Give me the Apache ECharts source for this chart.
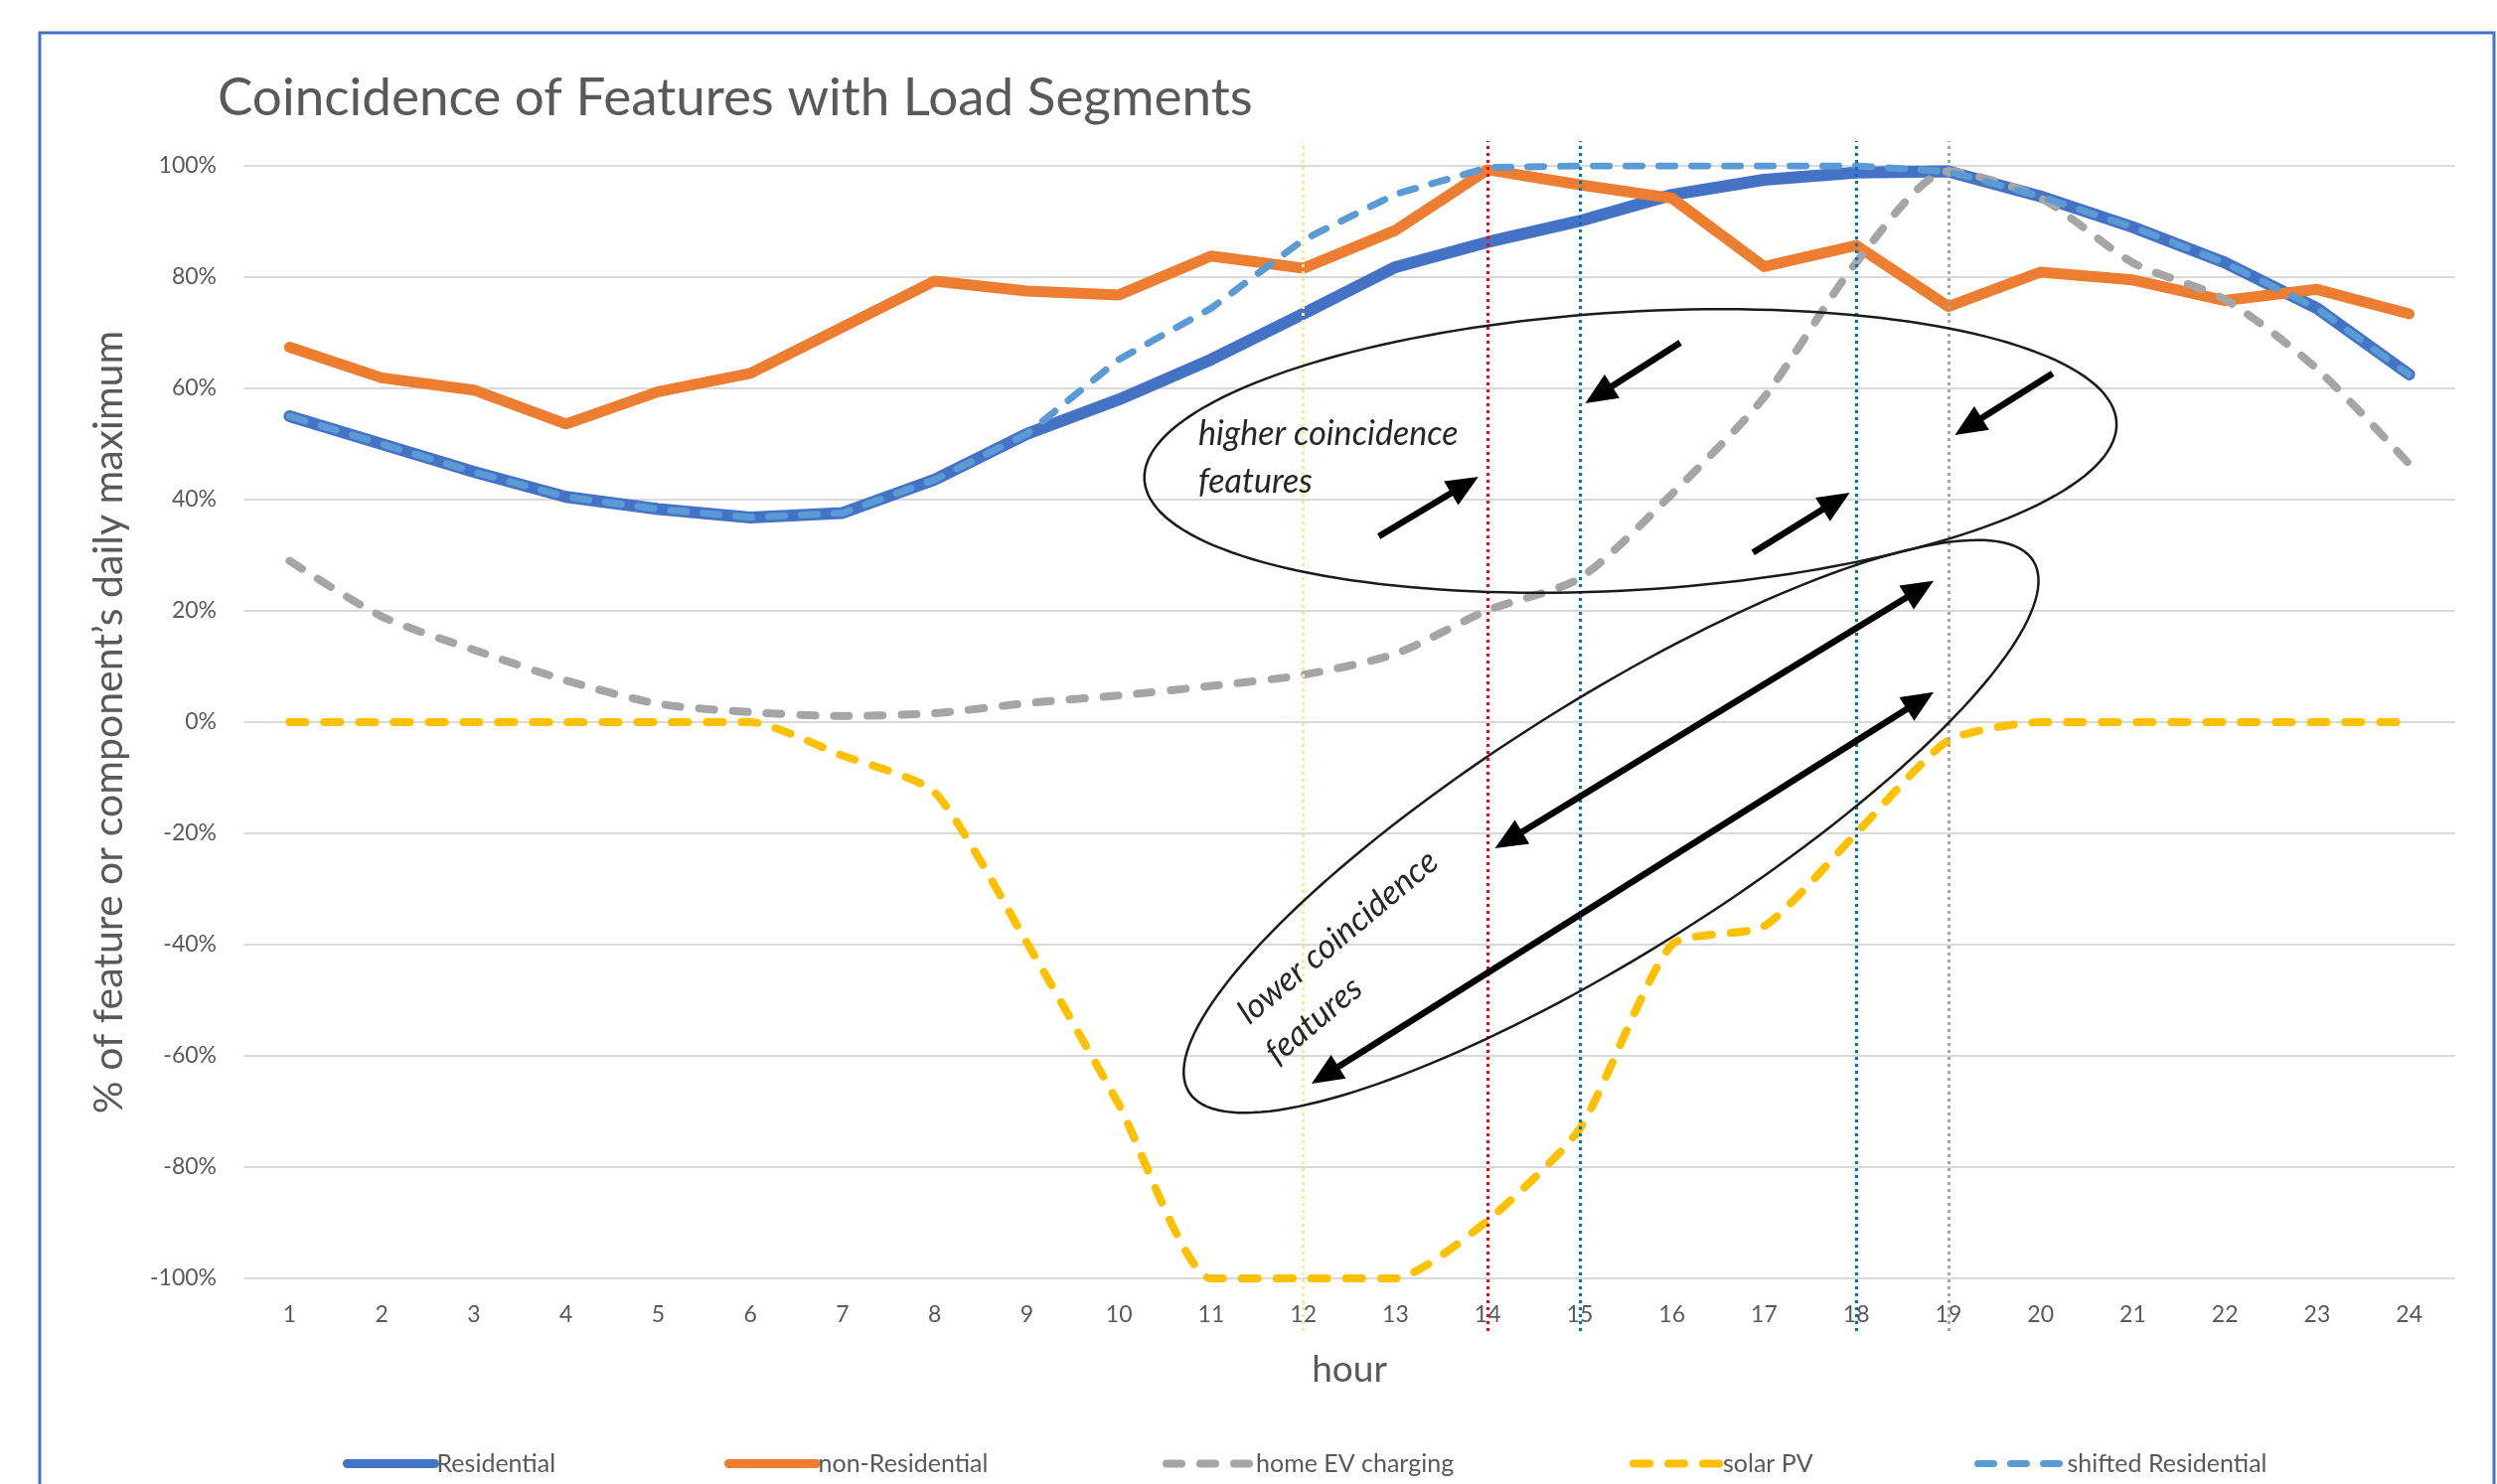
<!DOCTYPE html>
<html>
<head>
<meta charset="utf-8">
<title>Coincidence of Features with Load Segments</title>
<script src="https://cdn.jsdelivr.net/npm/echarts@6.0.0/dist/echarts.min.js"></script>
<style>
  html, body { margin: 0; padding: 0; background: #fff; }
  #chart { width: 2513px; height: 1494px; }
</style>
</head>
<body>
<div id="chart"></div>
<script>
// hours of the day
const hours = ['1', '2', '3', '4', '5', '6', '7', '8', '9', '10', '11', '12',
  '13', '14', '15', '16', '17', '18', '19', '20', '21', '22', '23', '24'];

// % of feature or component's daily maximum
const residential = [55, 50, 45, 40.5, 38.3, 36.8, 37.6, 43.6, 51.8, 58, 65.2, 73.4,
  81.8, 86.3, 90.1, 94.8, 97.5, 98.8, 99, 94.5, 89, 82.6, 74.4, 62.5];
const nonResidential = [67.4, 61.9, 59.7, 53.6, 59.4, 62.7, 71, 79.3, 77.5, 76.8, 83.8, 81.6,
  88.4, 99.3, 96.6, 94.2, 81.9, 85.7, 74.7, 80.9, 79.5, 75.8, 77.8, 73.4];
const homeEV = [29, 19, 13, 7.5, 3.3, 1.8, 1.1, 1.6, 3.4, 4.8, 6.5, 8.5,
  12.3, 20.1, 25.9, 41, 58.4, 82.6, 99, 94.2, 82.6, 76, 63.5, 46.4];
const solarPV = [0, 0, 0, 0, 0, 0, -6, -12.6, -39.6, -68.8, -100, -100,
  -100, -89.6, -73.1, -40, -36.7, -20, -3.3, 0, 0, 0, 0, 0];
const shiftedResidential = [55, 50, 45, 40.5, 38.3, 36.8, 37.6, 43.6, 51.8, 65.2, 74.4, 86.7,
  94.9, 99.7, 100, 100, 100, 100, 99, 94.5, 89, 82.6, 74.4, 62.5];

// hours marked with vertical dotted lines
const markerHours = ['12', '14', '15', '18', '19'];

// y axis ticks
const yMin = -100, yMax = 100, yStep = 20;

// annotation anchors, in (hour, %) units
const higherArrows = [[[12.82, 33.4], [13.9, 44.1]], [[16.09, 68.2], [15.06, 57.3]],
  [[16.88, 30.5], [17.93, 41.25]], [[20.13, 62.7], [19.07, 51.6]]];
const lowerArrows = [[[14.08, -22.7], [18.84, 25.4]], [[12.09, -65], [18.84, 5.4]]];
const higherText = ['higher coincidence', 'features'];
const higherTextAt = [[10.86, 51.8], [10.86, 43.2]];
const lowerText = ['lower coincidence', 'features'];
const lowerTextAt = [[11.34, -53], [11.64, -60.2]];
const ellipseCenters = [[15.55, 48.75], [15.34, -18.75]];

const FONT = 'Lato, "Noto Sans", sans-serif';
const GREY_TEXT = '#595959';
const markerColors = ['#FFE699', '#FF0000', '#0070C0', '#0070C0', '#A6A6A6'];
const ellipseShapes = [{ a: 490, b: 140, tilt: -3.4 }, { a: 502, b: 127, tilt: -32.2 }];

const seriesDefs = [
  { name: 'Residential', data: residential, color: '#4472C4', width: 12, dash: 'solid', smooth: false },
  { name: 'non-Residential', data: nonResidential, color: '#ED7D31', width: 11, dash: 'solid', smooth: false },
  { name: 'home EV charging', data: homeEV, color: '#A5A5A5', width: 8, dash: [15, 19], smooth: 0.25 },
  { name: 'solar PV', data: solarPV, color: '#FFC000', width: 8, dash: [16, 19], smooth: 0.2 },
  { name: 'shifted Residential', data: shiftedResidential, color: '#5B9BD5', width: 7, dash: [16, 17], smooth: false }
];
const legendLeft = [340, 724, 1165, 1635, 1982];

const chart = echarts.init(document.getElementById('chart'), null, { renderer: 'canvas' });

const option = {
  animation: false,
  backgroundColor: '#fff',
  title: {
    text: 'Coincidence of Features with Load Segments',
    left: 214,
    top: 67,
    textStyle: { fontFamily: FONT, fontSize: 53, fontWeight: 'normal', color: GREY_TEXT }
  },
  legend: seriesDefs.map((s, i) => ({
    data: [s.name],
    left: legendLeft[i],
    top: 1456,
    itemWidth: 88,
    itemHeight: 14,
    itemGap: 0,
    itemStyle: { opacity: 0 },
    lineStyle: { width: Math.min(s.width, 9), type: s.dash, cap: 'round' },
    textStyle: { fontFamily: FONT, fontSize: 25, color: GREY_TEXT, padding: [0, 0, 0, -3] }
  })),
  grid: [
    { left: 245, right: 42, top: 167, bottom: 207, containLabel: false, outerBoundsMode: 'none' },
    { left: 245, right: 42, top: 142, bottom: 154, containLabel: false, outerBoundsMode: 'none' }
  ],
  xAxis: [
    {
      type: 'category',
      data: hours,
      gridIndex: 0,
      boundaryGap: true,
      axisLine: { show: false },
      axisTick: { show: false },
      axisLabel: { fontFamily: FONT, fontSize: 23, color: GREY_TEXT, margin: 25 },
      name: 'hour',
      nameLocation: 'middle',
      nameGap: 74,
      nameTextStyle: { fontFamily: FONT, fontSize: 37, color: GREY_TEXT }
    },
    { type: 'category', data: hours, gridIndex: 1, boundaryGap: true, show: false }
  ],
  yAxis: [
    {
      type: 'value',
      gridIndex: 0,
      min: yMin,
      max: yMax,
      interval: yStep,
      axisLine: { show: false },
      axisTick: { show: false },
      axisLabel: { fontFamily: FONT, fontSize: 23, color: GREY_TEXT, margin: 27, formatter: '{value}%' },
      splitLine: { lineStyle: { color: '#D9D9D9', width: 2 } },
      name: '% of feature or component\u2019s daily maximum',
      nameLocation: 'middle',
      nameGap: 115,
      nameRotate: 90,
      nameTextStyle: { fontFamily: FONT, fontSize: 41, color: GREY_TEXT }
    },
    { type: 'value', gridIndex: 1, min: 0, max: 1, show: false }
  ],
  series: seriesDefs.map(s => ({
    name: s.name,
    type: 'line',
    xAxisIndex: 0,
    yAxisIndex: 0,
    data: s.data,
    symbol: 'none',
    smooth: s.smooth,
    color: s.color,
    lineStyle: { color: s.color, width: s.width, type: s.dash, cap: 'round', join: 'round' }
  })).concat([{
    name: 'markers',
    type: 'line',
    xAxisIndex: 1,
    yAxisIndex: 1,
    data: hours.map(() => null),
    symbol: 'none',
    z: 10,
    markLine: {
      silent: true,
      symbol: 'none',
      label: { show: false },
      data: markerHours.map((h, i) => ({
        xAxis: h,
        lineStyle: { color: markerColors[i], type: [3, 4], width: 3 }
      }))
    }
  }])
};

chart.setOption(option);

// hour may be fractional for annotations
function px(h, v) {
  const a = chart.convertToPixel({ gridIndex: 0 }, [0, v]);
  const b = chart.convertToPixel({ gridIndex: 0 }, [hours.length - 1, v]);
  return [a[0] + (h - 1) * (b[0] - a[0]) / (hours.length - 1), a[1]];
}

function ellipsePoints(c, a, b, tiltDeg) {
  const t0 = tiltDeg * Math.PI / 180;
  const pts = [];
  for (let i = 0; i < 180; i++) {
    const t = i / 180 * Math.PI * 2;
    const x = a * Math.cos(t), y = b * Math.sin(t);
    pts.push([c[0] + x * Math.cos(t0) - y * Math.sin(t0), c[1] + x * Math.sin(t0) + y * Math.cos(t0)]);
  }
  return pts;
}

function head(tip, from) {
  const dx = tip[0] - from[0], dy = tip[1] - from[1];
  const len = Math.sqrt(dx * dx + dy * dy);
  const ux = dx / len, uy = dy / len;
  const L = 32, W = 14;
  const bx = tip[0] - ux * L, by = tip[1] - uy * L;
  return {
    type: 'polygon', z: 20,
    shape: { points: [tip, [bx - uy * W, by + ux * W], [bx + uy * W, by - ux * W]] },
    style: { fill: '#000' }
  };
}

function arrow(p0, p1, both) {
  const dx = p1[0] - p0[0], dy = p1[1] - p0[1];
  const len = Math.sqrt(dx * dx + dy * dy);
  const ux = dx / len, uy = dy / len;
  const s = both ? [p0[0] + ux * 20, p0[1] + uy * 20] : p0;
  const e = [p1[0] - ux * 20, p1[1] - uy * 20];
  const els = [{
    type: 'line', z: 20,
    shape: { x1: s[0], y1: s[1], x2: e[0], y2: e[1] },
    style: { stroke: '#000', lineWidth: 6.5 }
  }, head(p1, p0)];
  if (both) els.push(head(p0, p1));
  return els;
}

function textLines(lines, anchors, rotDeg) {
  return lines.map((t, i) => {
    const p = px(anchors[i][0], anchors[i][1]);
    return {
      type: 'text', z: 20, x: p[0], y: p[1], rotation: rotDeg * Math.PI / 180,
      style: {
        text: t, fill: '#262626', fontFamily: FONT, fontSize: 34, fontStyle: 'italic',
        align: 'left', verticalAlign: 'middle'
      }
    };
  });
}

const graphics = [{
  type: 'rect', z: 0, silent: true,
  shape: { x: 40, y: 33, width: 2470, height: 1500 },
  style: { fill: 'none', stroke: '#4472C4', lineWidth: 3 }
}];
ellipseCenters.forEach((c, i) => {
  const s = ellipseShapes[i];
  graphics.push({
    type: 'polygon', z: 20,
    shape: { points: ellipsePoints(px(c[0], c[1]), s.a, s.b, s.tilt) },
    style: { fill: 'none', stroke: '#1a1a1a', lineWidth: 2.5 }
  });
});
higherArrows.forEach(a => graphics.push(...arrow(px(a[0][0], a[0][1]), px(a[1][0], a[1][1]), false)));
lowerArrows.forEach(a => graphics.push(...arrow(px(a[0][0], a[0][1]), px(a[1][0], a[1][1]), true)));
graphics.push(...textLines(higherText, higherTextAt, 0));
graphics.push(...textLines(lowerText, lowerTextAt, 40));

chart.setOption({ graphic: graphics });

window.addEventListener('resize', () => chart.resize());
</script>
</body>
</html>
